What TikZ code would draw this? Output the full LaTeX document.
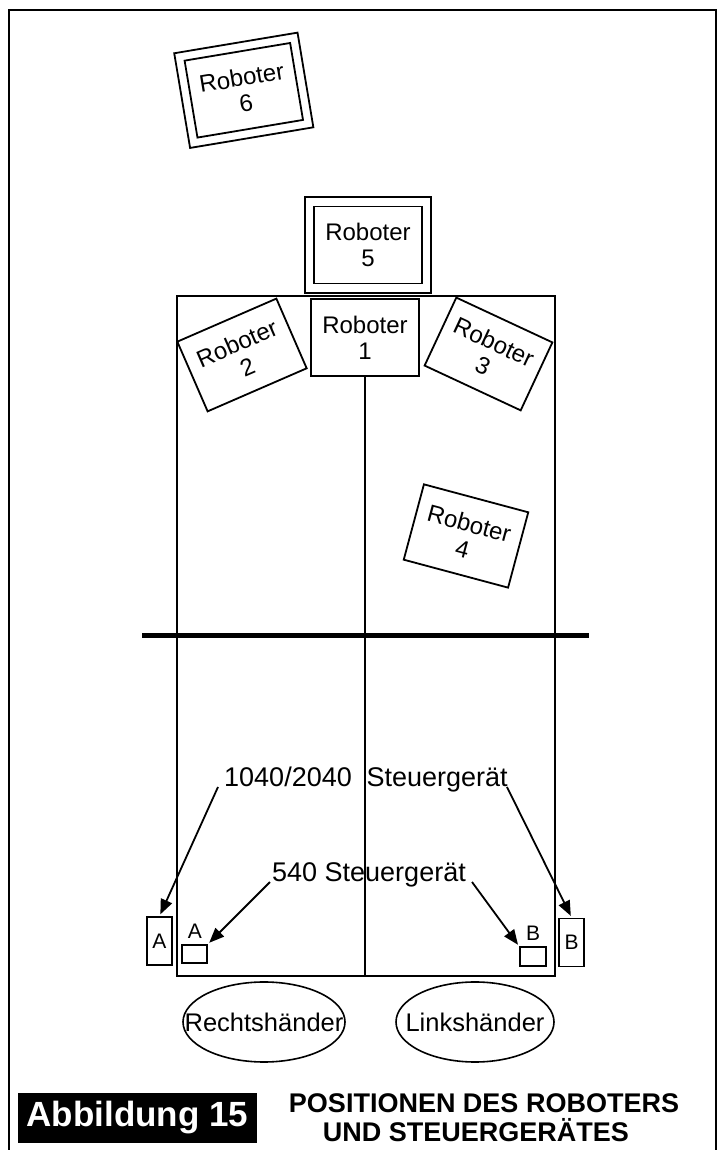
\documentclass[tikz,border=0pt]{standalone}
\usepackage{fontspec}
\setmainfont{Liberation Sans}
\usetikzlibrary{arrows.meta,shapes.geometric}
\begin{document}
\begin{tikzpicture}[x=1pt,y=1pt,
  robotbox/.style={draw, line width=1.8pt, inner sep=0pt, align=center, font=\fontsize{24}{26}\selectfont},
  ctrl/.style={draw, line width=1.6pt, inner sep=0pt, font=\fontsize{21}{22}\selectfont},
  ctrltext/.style={inner sep=0pt, font=\fontsize{21}{22}\selectfont},
  labeltext/.style={inner sep=0pt, font=\fontsize{27}{28}\selectfont},
  pointer/.style={line width=1.8pt, -{Triangle[length=15pt,width=12pt]}, shorten >=2pt},
  hand/.style={draw, ellipse, line width=1.6pt, inner sep=0pt, minimum height=80pt, font=\fontsize{25.5}{27}\selectfont},
  titletext/.style={anchor=base, inner sep=0pt, font=\fontsize{27}{28}\selectfont\bfseries},
]
\useasboundingbox (0,0) rectangle (722,1150);
% outer frame (open at the bottom)
\draw[line width=2.2pt] (9,0) -- (9,1140) -- (716,1140) -- (716,0);

% table
\node[draw, line width=2pt, minimum width=378pt, minimum height=680pt, inner sep=0pt] (table) at (366,514) {};

% robots
\node[robotbox, minimum width=108pt, minimum height=77pt, fill=white] (r1) at (365,812.5) {Roboter\\1};
\node[robotbox, rotate=23.5, minimum width=108pt, minimum height=76pt] (r2) at (242,795) {Roboter\\2};
\node[robotbox, rotate=-25, minimum width=106pt, minimum height=75pt] (r3) at (488.5,796) {Roboter\\3};
\node[robotbox, rotate=-15, minimum width=108pt, minimum height=78pt] (r4) at (466,614) {Roboter\\4};
\node[robotbox, minimum width=108pt, minimum height=77pt] (r5) at (368,905) {Roboter\\5};
\node[robotbox, minimum width=126pt, minimum height=96pt] (r5o) at (r5) {};
\node[robotbox, rotate=9.5, minimum width=107pt, minimum height=78pt] (r6) at (243.8,1059.7) {Roboter\\6};
\node[robotbox, rotate=9.5, minimum width=125pt, minimum height=96pt] (r6o) at (r6) {};

% middle line and bar
\draw[line width=2pt] (r1.south) -- (r1.south |- table.south);
\draw[line width=5pt] ([xshift=-34pt]table.west) -- ([xshift=33pt]table.east);

% controllers
\node[ctrl, minimum width=25pt, minimum height=48pt] (bigA) at (159.5,209) {A};
\node[ctrl, minimum width=25pt, minimum height=18pt] (smallA) at (194.5,196) {};
\node[ctrltext] (labA) at (195,219) {A};
\node[ctrl, minimum width=26pt, minimum height=19pt] (smallB) at (533,193.3) {};
\node[ctrltext] (labB) at (533,217) {B};
\node[ctrl, minimum width=25pt, minimum height=48pt] (bigB) at (571.7,207.5) {B};

% labels
\node[labeltext, anchor=base west] (l1040) at (224,363) {1040/2040\hspace{0.55em}Steuergerät};
\node[labeltext, anchor=base] (l540) at (369,268) {540 Steuergerät};

% arrows
\draw[pointer] ([xshift=-6pt]l1040.base west) -- (bigA.north);
\draw[pointer] ([xshift=-1pt]l1040.base east) -- (bigB.north);
\draw[pointer] ([xshift=-2pt]l540.base west) -- (smallA.north east);
\draw[pointer] ([xshift=6pt]l540.base east) -- (smallB.north west);

% hands
\node[hand, minimum width=162pt] (rh) at (264,128) {\makebox[0pt]{Rechtshänder}};
\node[hand, minimum width=158pt] (lh) at (475,128) {\makebox[0pt]{Linkshänder}};

% title
\node[fill=black, text=white, minimum width=239pt, minimum height=50pt, inner sep=0pt,
      font=\fontsize{35}{36}\selectfont\bfseries] (fig) at (137.5,32) {Abbildung 15};
\node[titletext] (t1) at (484,37) {POSITIONEN DES ROBOTERS};
\node[titletext] (t2) at (476,9) {UND STEUERGERÄTES};
\end{tikzpicture}
\end{document}
